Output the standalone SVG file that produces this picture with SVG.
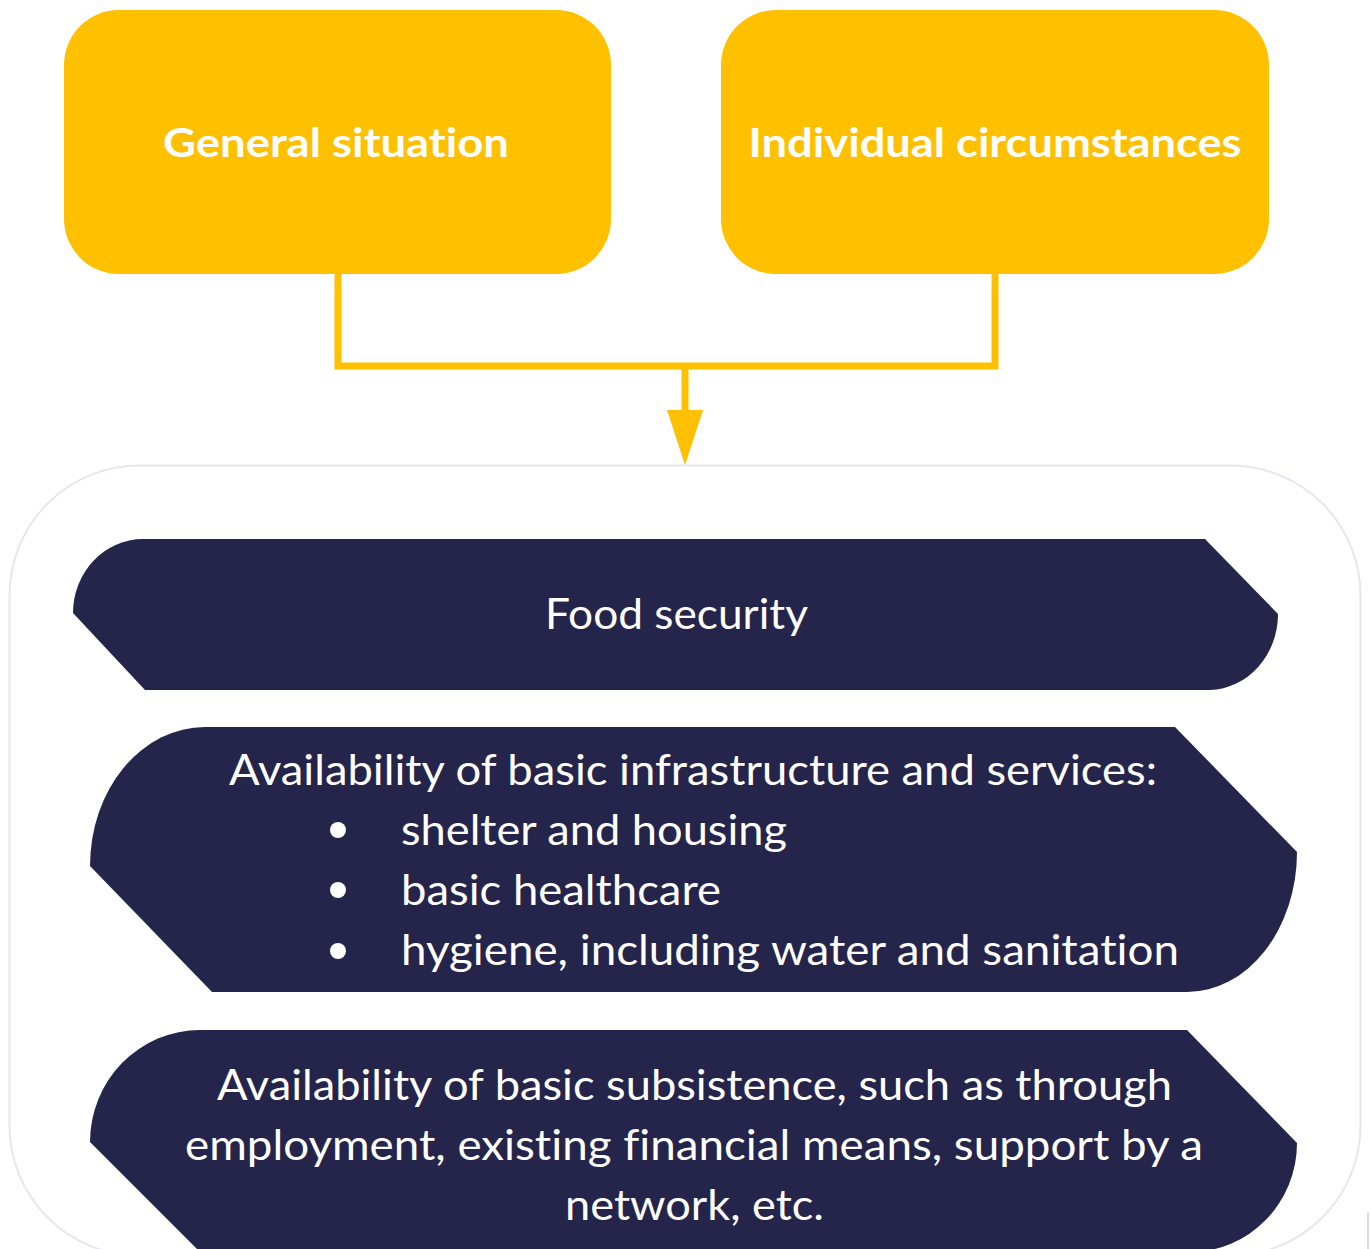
<svg xmlns="http://www.w3.org/2000/svg" width="1370" height="1249" viewBox="0 0 1370 1249">
  <style>
    .ybox { fill: #FFC000; }
    .ytxt { fill: #FFFFFF; font-family: Lato, "Open Sans", "DejaVu Sans", sans-serif; font-weight: 700; font-size: 41px; font-variant-ligatures: none; }
    .dshape { fill: #25244A; }
    .dtxt { fill: #FFFFFF; font-family: Lato, "Open Sans", "DejaVu Sans", sans-serif; font-size: 42px; font-variant-ligatures: none; }
    .conn { fill: none; stroke: #FFC000; stroke-width: 7; stroke-linejoin: miter; }
    .frame { fill: #FFFFFF; stroke: #E4E7EE; stroke-width: 2; }
  </style>
  <rect width="1370" height="1249" fill="#FFFFFF"/>

  <g id="container">
    <rect class="frame" x="9.5" y="465.5" width="1351" height="790" rx="130" ry="130"/>
    <line x1="1368" y1="1212" x2="1368" y2="1249" stroke="#D0D0D0" stroke-width="1.5"/>
  </g>

  <g id="node-general">
    <rect class="ybox" x="64" y="10" width="547" height="264" rx="55" ry="55"/>
    <text class="ytxt" x="336" y="157" text-anchor="middle" textLength="346" lengthAdjust="spacingAndGlyphs">General situation</text>
  </g>

  <g id="node-individual">
    <rect class="ybox" x="721" y="10" width="548" height="264" rx="55" ry="55"/>
    <text class="ytxt" x="995" y="157" text-anchor="middle" textLength="493" lengthAdjust="spacingAndGlyphs">Individual circumstances</text>
  </g>

  <g id="connectors">
    <path class="conn" d="M338,274 V366 H995 V274"/>
    <path class="conn" d="M685,366 V412"/>
    <polygon points="667,410 703,410 685,465" fill="#FFC000"/>
  </g>

  <g id="node-food">
    <path class="dshape" d="M143,539 H1205 L1278,614 A70,76 0 0 1 1210,690 H145 L73,613 A70,74 0 0 1 143,539 Z"/>
    <text class="dtxt" x="676.5" y="629" text-anchor="middle" textLength="263" lengthAdjust="spacingAndGlyphs">Food security</text>
  </g>

  <g id="node-infrastructure">
    <path class="dshape" d="M205,727 H1175 L1297,852 A110,140 0 0 1 1187,992 H212 L90,866 A115,139 0 0 1 205,727 Z"/>
    <text class="dtxt" x="693" y="785" text-anchor="middle" textLength="928" lengthAdjust="spacingAndGlyphs">Availability of basic infrastructure and services:</text>
    <circle cx="338" cy="830" r="8" fill="#FFFFFF"/>
    <circle cx="338" cy="890" r="8" fill="#FFFFFF"/>
    <circle cx="338" cy="951" r="8" fill="#FFFFFF"/>
    <text class="dtxt" x="401" y="845" textLength="386" lengthAdjust="spacingAndGlyphs">shelter and housing</text>
    <text class="dtxt" x="401" y="905" textLength="320" lengthAdjust="spacingAndGlyphs">basic healthcare</text>
    <text class="dtxt" x="401" y="965" textLength="778" lengthAdjust="spacingAndGlyphs">hygiene, including water and sanitation</text>
  </g>

  <g id="node-subsistence">
    <path class="dshape" d="M200,1030 H1187 L1297,1143 A107,109 0 0 1 1190,1252 H200 L90,1142 A110,112 0 0 1 200,1030 Z"/>
    <text class="dtxt" x="694.5" y="1100" text-anchor="middle" textLength="955" lengthAdjust="spacingAndGlyphs">Availability of basic subsistence, such as through</text>
    <text class="dtxt" x="694" y="1160" text-anchor="middle" textLength="1018" lengthAdjust="spacingAndGlyphs">employment, existing financial means, support by a</text>
    <text class="dtxt" x="694.5" y="1220" text-anchor="middle" textLength="259" lengthAdjust="spacingAndGlyphs">network, etc.</text>
  </g>
</svg>
